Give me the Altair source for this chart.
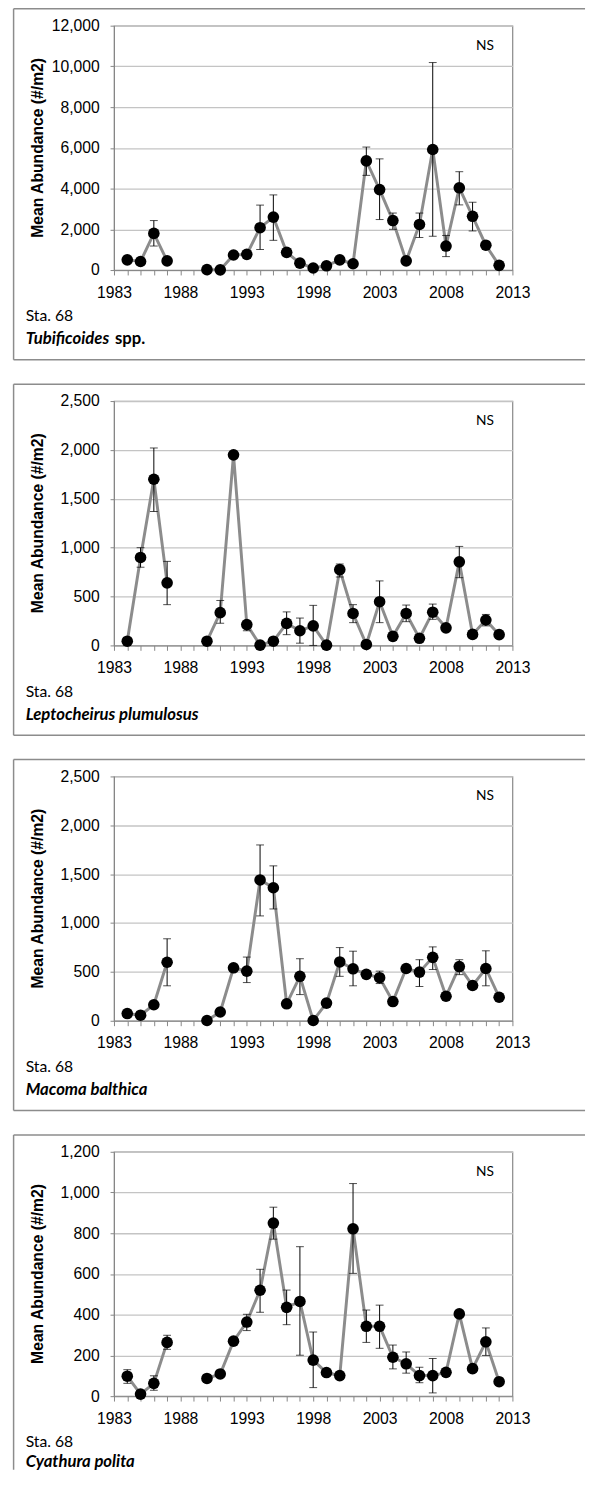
import altair as alt
import pandas as pd

years = [1984, 1985, 1986, 1987,
         1990, 1991, 1992, 1993, 1994, 1995, 1996, 1997, 1998, 1999, 2000,
         2001, 2002, 2003, 2004, 2005, 2006, 2007, 2008, 2009, 2010, 2011, 2012]

# Tubificoides spp.
tub_mean = [500, 420, 1800, 450, 20, 10, 740, 770, 2080, 2600, 870, 340, 100, 210, 500,
            310, 5360, 3950, 2430, 450, 2240, 5920, 1180, 4040, 2640, 1220, 230]
tub_lo = [None, None, 1180, None, None, None, None, None, 1010, 1460, None, None, None, None, None,
          None, 4650, 2480, 2000, None, 1600, 1660, 660, 3200, 1920, None, None]
tub_hi = [None, None, 2430, None, None, None, None, None, 3190, 3690, None, None, None, None, None,
          None, 6040, 5460, 2800, None, 2800, 10190, 1700, 4830, 3330, None, None]

# Leptocheirus plumulosus
lep_mean = [43, 900, 1700, 640, 43, 335, 1950, 213, 3, 43, 225, 150, 200, 3, 775,
            327, 10, 447, 93, 327, 73, 340, 180, 855, 113, 260, 110]
lep_lo = [None, 800, 1370, 417, None, 227, None, 150, None, None, 110, 23, 0, None, 700,
          233, None, 233, None, 243, None, 267, None, 693, None, 200, None]
lep_hi = [None, 1000, 2020, 860, None, 460, None, 213, None, None, 343, 280, 410, None, 833,
          417, None, 660, None, 413, None, 423, None, 1013, None, 317, None]

# Macoma balthica
mac_mean = [74, 57, 164, 599, 3, 90, 542, 508, 1441, 1361, 174, 455, 3, 181, 602,
            532, 475, 441, 197, 535, 498, 649, 251, 555, 361, 535, 241]
mac_lo = [None, None, None, 358, None, None, None, 391, 1073, 1144, None, 268, None, None, 455,
          358, None, 381, None, None, 351, 525, None, 472, None, 358, None]
mac_hi = [None, None, None, 839, None, None, None, 652, 1799, 1585, None, 635, None, None, 749,
          712, None, 508, None, None, 625, 756, None, 625, None, 716, None]

# Cyathura polita
cya_mean = [98, 10, 63, 264, 87, 109, 270, 364, 520, 850, 436, 465, 177, 116, 101,
            822, 343, 343, 191, 159, 101, 101, 117, 404, 135, 267, 71]
cya_lo = [63, None, 29, 230, None, None, None, 322, 412, 771, 351, 201, 42, None, None,
          603, 264, 235, 134, 113, 66, 16, None, None, None, 200, None]
cya_hi = [130, None, 100, 299, None, None, None, 402, 623, 928, 521, 734, 315, None, None,
          1044, 423, 447, 251, 217, 142, 185, None, None, None, 335, None]

station = "Sta. 68"
ytitle = "Mean Abundance (#/m2)"
panels = [
    (tub_mean, tub_lo, tub_hi, 12000, 2000, [("Tubificoides", "italic", -90), ("spp.", "normal", 1)], False),
    (lep_mean, lep_lo, lep_hi, 2500, 500, [("Leptocheirus plumulosus", "italic", -90)], False),
    (mac_mean, mac_lo, mac_hi, 2500, 500, [("Macoma balthica", "italic", -90)], False),
    (cya_mean, cya_lo, cya_hi, 1200, 200, [("Cyathura polita", "italic", -90)], True),
]

W, H = 406, 249
AXIS_FONT = "Liberation Sans"
TEXT_FONT = "Lato"
FRAME = "#8c8c8c"
FL, FR, FT, FB = -102.3, 480, -17.2, 340.5


def make_panel(mean, lo, hi, ymax, ystep, species, last):
    df = pd.DataFrame({"year": years, "value": mean, "lo": lo, "hi": hi})
    df["seg"] = ["a" if y < 1988 else "b" for y in years]
    err = df.dropna(subset=["lo", "hi"])

    xscale = alt.Scale(domain=[1983, 2013], nice=False, zero=False)
    yscale = alt.Scale(domain=[0, ymax], nice=False)
    xaxis = alt.Axis(
        values=list(range(1983, 2014)), format="d",
        labelExpr="(datum.value - 1983) % 5 == 0 ? datum.label : ''",
        title=None, grid=False, tickSize=5, labelPadding=9.5,
        labelFlush=False, labelOverlap=False,
        labelFont=AXIS_FONT, labelFontSize=16,
    )
    yaxis = alt.Axis(
        values=list(range(0, ymax + 1, ystep)), format=",d",
        title=None, grid=True, tickSize=4, labelPadding=11,
        labelFont=AXIS_FONT, labelFontSize=16,
    )

    line = alt.Chart(df).mark_line(color="#8c8c8c", strokeWidth=3).encode(
        x=alt.X("year:Q", scale=xscale, axis=xaxis),
        y=alt.Y("value:Q", scale=yscale, axis=yaxis),
        detail="seg:N",
    )
    bars = alt.Chart(err).mark_errorbar(ticks=True, size=8, thickness=1, color="black").encode(
        x=alt.X("year:Q", scale=xscale, axis=xaxis),
        y=alt.Y("lo:Q", scale=yscale, axis=yaxis),
        y2="hi:Q",
    )
    pts = alt.Chart(df).mark_circle(color="black", size=140, opacity=1).encode(
        x=alt.X("year:Q", scale=xscale, axis=xaxis),
        y=alt.Y("value:Q", scale=yscale, axis=yaxis),
    )

    one = pd.DataFrame({"k": [0]})
    bottom = 324 if last else FB
    layers = [
        alt.Chart(one).mark_rule(color=FRAME, strokeWidth=1.5).encode(
            x=alt.value(FL), x2=alt.value(FR), y=alt.value(FT)
        ),
        alt.Chart(one).mark_rule(color=FRAME, strokeWidth=1.5).encode(
            x=alt.value(FL), y=alt.value(FT), y2=alt.value(bottom)
        ),
    ]
    if not last:
        layers.append(alt.Chart(one).mark_rule(color=FRAME, strokeWidth=1.5).encode(
            x=alt.value(FL), x2=alt.value(FR), y=alt.value(FB)
        ))
    ytxt = alt.Chart(one).mark_text(
        text=ytitle, font=AXIS_FONT, fontSize=16, fontWeight="bold", angle=270,
        align="center", baseline="alphabetic", color="black"
    ).encode(x=alt.value(-72), y=alt.value(H / 2))
    ns = alt.Chart(one).mark_text(
        text="NS", font=TEXT_FONT, fontSize=14, align="center", baseline="middle", color="black"
    ).encode(x=alt.value(378), y=alt.value(20.5))
    sta = alt.Chart(one).mark_text(
        text=station, font=TEXT_FONT, fontSize=16, align="left", baseline="middle", color="black"
    ).encode(x=alt.value(-90), y=alt.value(296.2))
    layers += [line, bars, pts, ytxt, ns, sta]
    sy = 316 if last else 319.5
    for txt, style, xpos in species:
        layers.append(
            alt.Chart(one).mark_text(
                text=txt, font=TEXT_FONT, fontSize=17, fontWeight="bold", fontStyle=style,
                align="left", baseline="middle", color="black"
            ).encode(x=alt.value(xpos), y=alt.value(sy))
        )
    return alt.layer(*layers).properties(width=W, height=H)


charts = [make_panel(*p) for p in panels]

chart = alt.vconcat(*charts, spacing=21.5).properties(
    padding={"left": 4, "top": -15, "right": 0, "bottom": 0}
).configure_view(
    stroke="#868686", strokeWidth=1.2
).configure_axis(
    labelFont=AXIS_FONT, labelFontSize=16, labelColor="black",
    domainColor="#868686", tickColor="#868686", gridColor="#c4c4c4", gridWidth=1.3,
)

chart.save("out.html", embed_options={"renderer": "svg", "actions": False})
